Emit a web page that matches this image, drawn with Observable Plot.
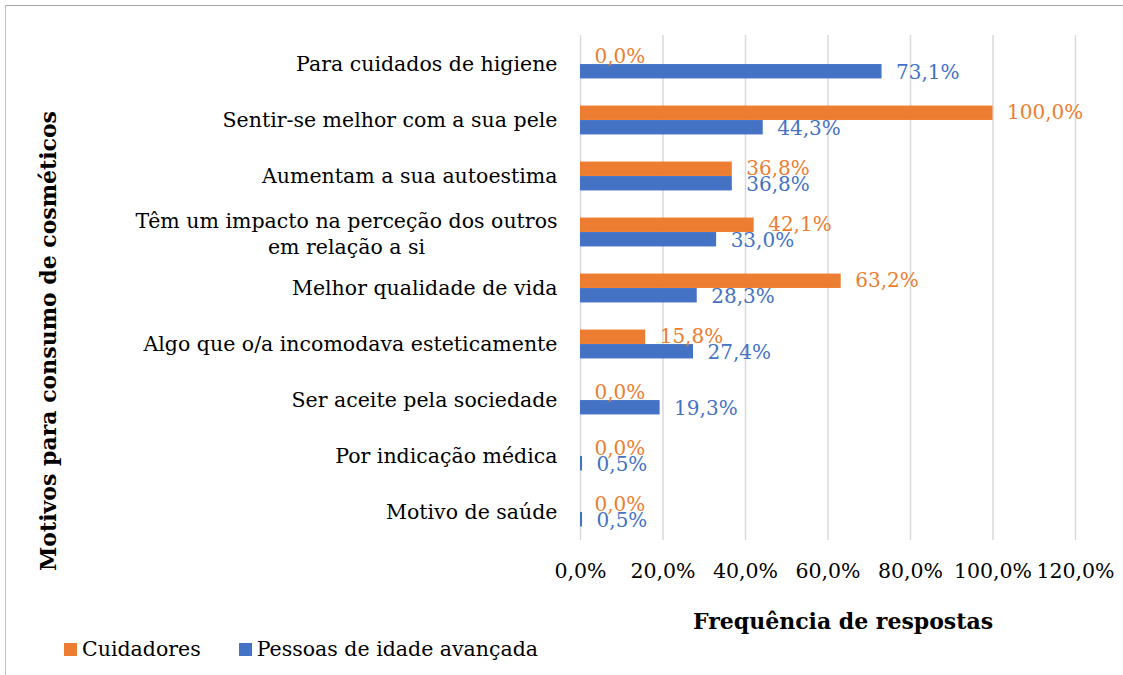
<!DOCTYPE html>
<html><head><meta charset="utf-8">
<script src="https://cdn.jsdelivr.net/npm/d3@7"></script>
<script src="https://cdn.jsdelivr.net/npm/@observablehq/plot@0.6"></script>
<style>
html,body{margin:0;padding:0;background:#fff;overflow:hidden;width:1123px;height:675px}
#frame{position:absolute;left:5px;top:5px;width:1140px;height:700px;border-top:1.5px solid #a6a6a6;border-left:1.5px solid #bfbfbf;}
#chart{position:absolute;left:0;top:0}
#legend{position:absolute;left:58px;top:631px;display:flex;align-items:center;font-family:"DejaVu Serif",serif;font-size:20.5px;color:#000}
#legend .item{display:flex;align-items:center;margin-right:38px}
#legend .sw{width:13px;height:13px;margin-right:5px}
</style></head>
<body>
<div id="frame"><div id="chart"></div><div id="legend"></div></div>
<script>
const categories = [
  "Para cuidados de higiene",
  "Sentir-se melhor com a sua pele",
  "Aumentam a sua autoestima",
  "Têm um impacto na perceção dos outros\nem relação a si",
  "Melhor qualidade de vida",
  "Algo que o/a incomodava esteticamente",
  "Ser aceite pela sociedade",
  "Por indicação médica",
  "Motivo de saúde"
];
const seriesNames = ["Cuidadores", "Pessoas de idade avançada"];
const cuidadores = [0.0, 100.0, 36.8, 42.1, 63.2, 15.8, 0.0, 0.0, 0.0];
const pessoas = [73.1, 44.3, 36.8, 33.0, 28.3, 27.4, 19.3, 0.5, 0.5];
const xTicks = [0, 20, 40, 60, 80, 100, 120];
const colors = ["#ED7D31", "#4472C4"];
const xTitle = "Frequência de respostas";
const yTitle = "Motivos para consumo de cosméticos";

const FONT = '"DejaVu Serif", serif';
const CAT_FS = 20.5, LBL_FS = 20, TICK_FS = 20.5, TITLE_FS = 22;
const fmt = v => v.toFixed(1).replace(".", ",") + "%";

const rows = [];
categories.forEach((c, i) => {
  rows.push({cat: c, series: seriesNames[0], value: cuidadores[i]});
  rows.push({cat: c, series: seriesNames[1], value: pessoas[i]});
});

const W = 1117, H = 624;
const mL = 574, mR = 48, mT = 29, mB = H - 534;
const step = (H - mT - mB) / categories.length;
const barH = 14.5;
const half = step / 2;

const ctx = document.createElement("canvas").getContext("2d");
ctx.font = `${CAT_FS}px ${FONT}`;
const multi = categories.filter(c => c.includes("\n"));
const singles = categories.filter(c => !c.includes("\n"));
const pad = 23;

const marks = [
  Plot.gridX(xTicks, {stroke: "#d9d9d9", strokeOpacity: 1, strokeWidth: 1.5}),
  Plot.barX(rows.filter(d => d.series === seriesNames[0]), {
    x: "value", y: "cat", fill: colors[0], insetTop: half - barH, insetBottom: half
  }),
  Plot.barX(rows.filter(d => d.series === seriesNames[1]), {
    x: "value", y: "cat", fill: colors[1], insetTop: half, insetBottom: half - barH
  }),
  Plot.text(rows.filter(d => d.series === seriesNames[0]), {
    x: "value", y: "cat", text: d => fmt(d.value), fill: colors[0],
    dy: -barH / 2 - 1, dx: 14, textAnchor: "start", fontSize: LBL_FS, fontFamily: FONT
  }),
  Plot.text(rows.filter(d => d.series === seriesNames[1]), {
    x: "value", y: "cat", text: d => fmt(d.value), fill: colors[1],
    dy: barH / 2 + 1, dx: 14, textAnchor: "start", fontSize: LBL_FS, fontFamily: FONT
  }),
  Plot.axisX(xTicks, {tickSize: 0, tickPadding: 23, tickFormat: fmt, fontSize: TICK_FS, fontFamily: FONT, fill: "#000", label: null}),
  Plot.text(singles, {y: d => d, frameAnchor: "left", dx: -pad, textAnchor: "end", fontSize: CAT_FS, fontFamily: FONT, fill: "#000"}),
  ...multi.map(c => {
    const w = Math.max(...c.split("\n").map(s => ctx.measureText(s).width));
    return Plot.text([c], {y: d => d, frameAnchor: "left", dx: -pad - w / 2, textAnchor: "middle", lineHeight: 1.3, fontSize: CAT_FS, fontFamily: FONT, fill: "#000"});
  }),
  Plot.text([xTitle], {text: d => d, frameAnchor: "bottom", dx: 15, dy: 88, fontSize: TITLE_FS, fontWeight: "bold", fontFamily: FONT, fill: "#000"}),
  Plot.text([yTitle], {text: d => d, frameAnchor: "left", textAnchor: "middle", dx: -532, dy: 53, rotate: -90, fontSize: TITLE_FS, fontWeight: "bold", fontFamily: FONT, fill: "#000"})
];

const chart = Plot.plot({
  width: W, height: H,
  marginLeft: mL, marginRight: mR, marginTop: mT, marginBottom: mB,
  style: {fontFamily: FONT, background: "transparent", overflow: "visible"},
  x: {domain: [0, 120], axis: null},
  y: {domain: categories, axis: null, padding: 0},
  marks
});
document.getElementById("chart").appendChild(chart);

const legend = document.getElementById("legend");
seriesNames.forEach((s, i) => {
  const it = document.createElement("div");
  it.className = "item";
  it.innerHTML = `<div class="sw" style="background:${colors[i]}"></div><span>${s}</span>`;
  legend.appendChild(it);
});
</script>
</body></html>
